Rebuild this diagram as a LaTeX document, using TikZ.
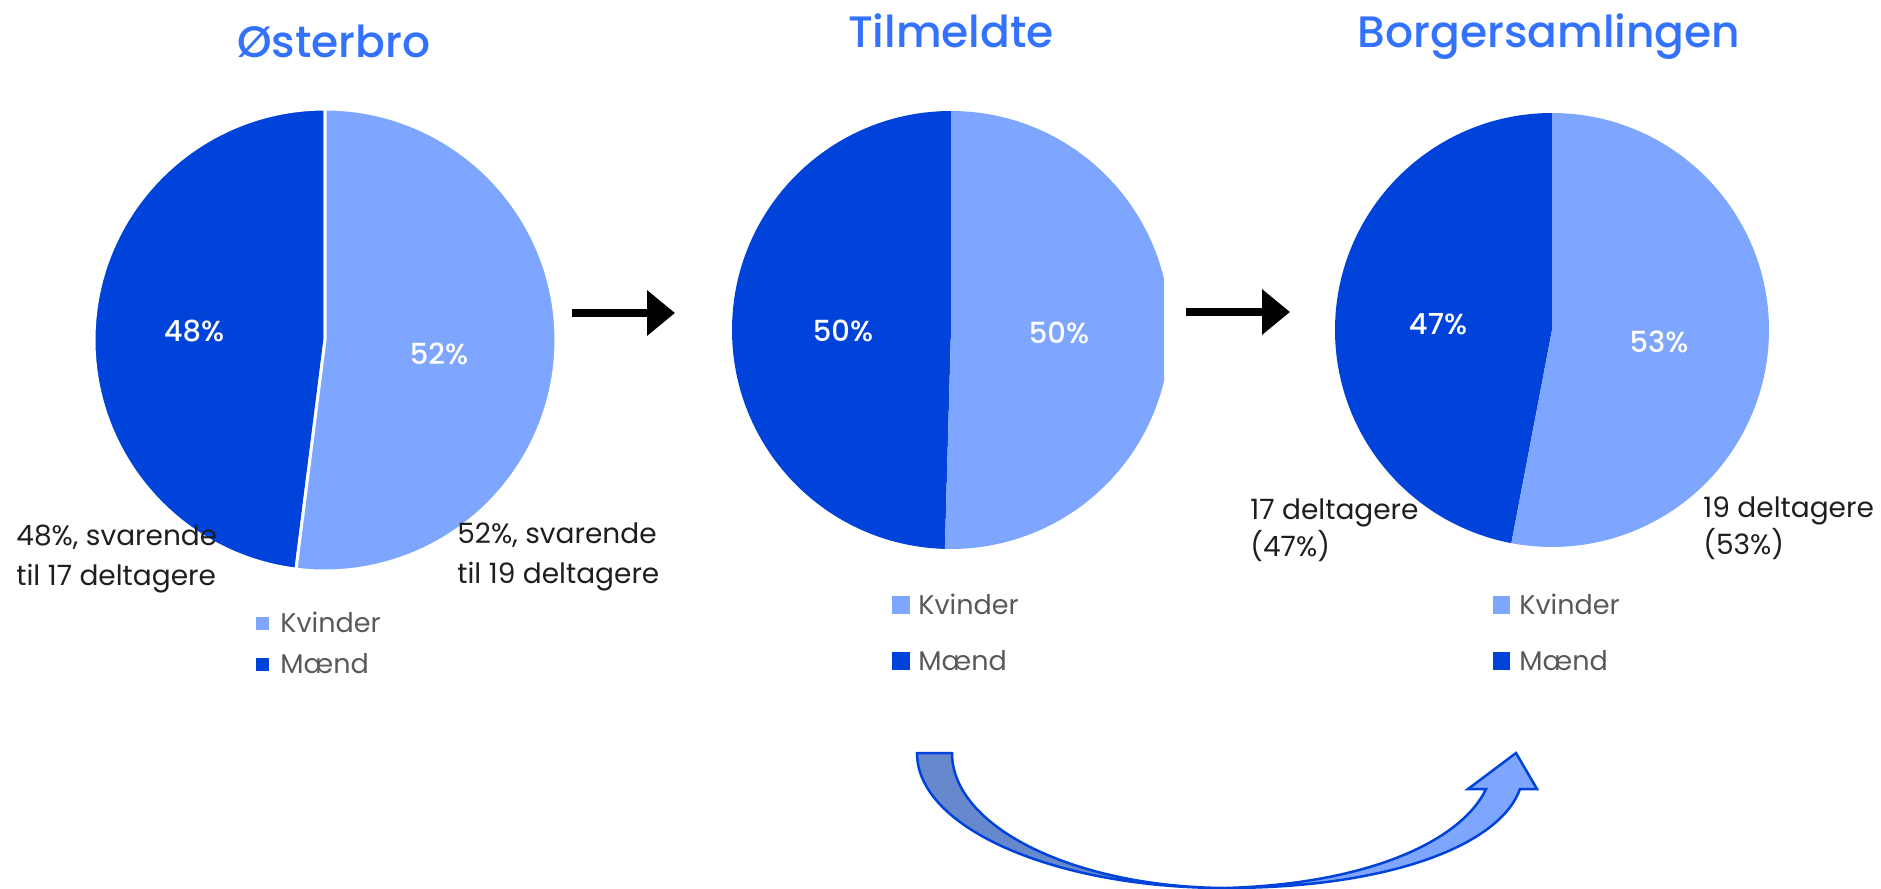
\documentclass[tikz,border=0pt]{standalone}
\usepackage{fontspec}
\setmainfont{Poppins}
\newfontfamily\popmed{Poppins Medium}
\usetikzlibrary{arrows.meta}
\definecolor{mand}{HTML}{0043DB}
\definecolor{kvinde}{HTML}{7FA6FF}
\definecolor{titleblue}{HTML}{3371FF}
\definecolor{darkpiece}{HTML}{6688CC}
\definecolor{legendgray}{HTML}{595959}
\definecolor{labelblack}{HTML}{1E1E1E}
\tikzset{
  titletext/.style={text=titleblue, font=\popmed\fontsize{22}{27}\selectfont, inner sep=0pt, anchor=base},
  pctlabel/.style={text=white, font=\popmed\fontsize{14.5}{16}\selectfont, inner sep=0pt},
  outlabel/.style={text=labelblack, font=\fontsize{14}{20}\selectfont, inner sep=0pt, anchor=base west, align=left},
  legtext/.style={text=legendgray, font=\fontsize{13.5}{16}\selectfont, inner sep=0pt, anchor=base west},
  blkarrow/.style={draw=black, line width=4pt, -{Triangle[length=14pt,width=22pt]}},
  curvepiece/.style={draw=mand, line width=1.25pt, line join=miter},
}
\begin{document}
\begin{tikzpicture}[x=0.5pt,y=0.5pt]
\useasboundingbox (0,0) rectangle (1881,-889);
% ---- titles
\node[titletext] (t1) at (334,-57) {Østerbro};
\node[titletext] (t2) at (951,-47) {Tilmeldte};
\node[titletext] (t3) at (1549,-47) {Borgersamlingen};
% ---- pie 1
\coordinate (c1) at (325,-340);
\fill[mand, draw=white, line width=1.5pt] (c1) -- ++(90:231) arc[start angle=90, end angle=262.8, radius=231] -- cycle;
\fill[kvinde, draw=white, line width=1.5pt] (c1) -- ++(90:231) arc[start angle=90, end angle=-97.2, radius=231] -- cycle;
\node[pctlabel] (p1m) at (194,-331) {48\%};
\node[pctlabel] (p1k) at (439,-354) {52\%};
\node[outlabel] (o1m) at (16,-585) {48\%, svarende\\til 17 deltagere};
\node[outlabel] (o1k) at (457,-583) {52\%, svarende\\til 19 deltagere};
\fill[kvinde] (256,-617) rectangle ++(13,-13);
\fill[mand] (256,-658) rectangle ++(13,-13);
\node[legtext] (l1k) at (280,-632) {Kvinder};
\node[legtext] (l1m) at (280,-673) {Mænd};
% ---- arrow 1
\coordinate (a1s) at (572,-313);
\coordinate (a1e) at (675,-313);
\draw[blkarrow] (a1s) -- (a1e);
% ---- pie 2
\coordinate (c2) at (951,-330);
\begin{scope}
\clip (700,-100) rectangle (1164,-560);
\fill[mand] (c2) -- ++(90:219) arc[start angle=90, end angle=268.4, radius=219] -- cycle;
\fill[kvinde] (c2) -- ++(90:219) arc[start angle=90, end angle=-91.6, radius=219] -- cycle;
\end{scope}
\node[pctlabel] (p2m) at (843,-331) {50\%};
\node[pctlabel] (p2k) at (1059,-333) {50\%};
\fill[kvinde] (892,-596) rectangle ++(18,-18);
\fill[mand] (892,-652) rectangle ++(18,-18);
\node[legtext] (l2k) at (918,-614) {Kvinder};
\node[legtext] (l2m) at (918,-670) {Mænd};
% ---- arrow 2
\coordinate (a2s) at (1186,-312);
\coordinate (a2e) at (1290,-312);
\draw[blkarrow] (a2s) -- (a2e);
% ---- pie 3
\coordinate (c3) at (1552,-330);
\fill[mand] (c3) -- ++(90:217) arc[start angle=90, end angle=259.2, radius=217] -- cycle;
\fill[kvinde] (c3) -- ++(90:217) arc[start angle=90, end angle=-100.8, radius=217] -- cycle;
\node[pctlabel] (p3m) at (1438,-324) {47\%};
\node[pctlabel] (p3k) at (1659,-342) {53\%};
\node[outlabel, font=\fontsize{14}{18.5}\selectfont] (o3m) at (1250,-556) {17 deltagere\\(47\%)};
\node[outlabel, font=\fontsize{14}{18.5}\selectfont] (o3k) at (1703,-554) {19 deltagere\\(53\%)};
\fill[kvinde] (1493,-596) rectangle ++(17,-18);
\fill[mand] (1493,-652) rectangle ++(17,-18);
\node[legtext] (l3k) at (1519,-614) {Kvinder};
\node[legtext] (l3m) at (1519,-670) {Mænd};
% ---- curved arrow
\fill[darkpiece, curvepiece] (917,-753) .. controls (917,-828) and (1055,-888) .. (1225,-888)
   .. controls (1074,-887) and (952,-827) .. (952,-753) -- cycle;
\fill[kvinde, curvepiece] (1225,-888) .. controls (1390,-888) and (1500,-845) .. (1520,-789)
   -- (1537,-789) -- (1516,-753) -- (1468,-789) -- (1486,-789)
   .. controls (1462,-840) and (1370,-884) .. (1225,-888) -- cycle;
\end{tikzpicture}
\end{document}
